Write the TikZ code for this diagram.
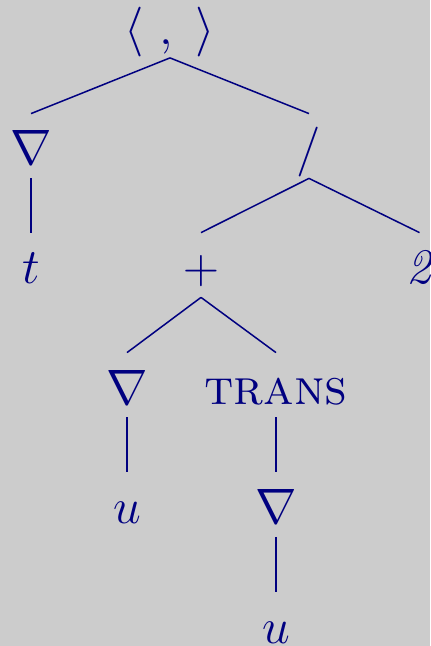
\documentclass[tikz,border=0pt]{standalone}
\usepackage{tikz}
\definecolor{treeNavy}{RGB}{0,0,128}
\definecolor{bgGray}{RGB}{204,204,204}
\tikzset{
  tnode/.style={text=treeNavy, font=\Huge, anchor=base, inner sep=3.5pt, text height=22pt, text depth=3pt},
  branch/.style={draw=treeNavy, line width=0.75pt}
}

\begin{document}
\begin{tikzpicture}[x=0.5pt,y=0.5pt]
  % background and frame
  \fill[bgGray] (0,0) rectangle (430,-646);
  \useasboundingbox (0,0) rectangle (430,-646);

  \node[tnode] (root) at (170,-44.5) {$\langle\ ,\ \rangle$};
  \node[tnode] (gradt) at (31,-165) {$\nabla$};
  \node[tnode] (divide) at (309,-165) {$/$};
  \node[tnode] (tvar) at (31,-284) {$t$};
  \node[tnode] (plus) at (201,-284) {$+$};
  \node[tnode] (two) at (419.5,-284) {\textit{2}};
  \node[tnode] (gradu) at (127,-404) {$\nabla$};
  \node[tnode] (trans) at (276,-404) {\textsc{trans}};
  \node[tnode] (uvar) at (127,-523.5) {$u$};
  \node[tnode] (gradv) at (276,-523.5) {$\nabla$};
  \node[tnode] (uvarb) at (276,-643) {$u$};

  \draw[branch] (root.south) -- (gradt.north);
  \draw[branch] (root.south) -- (divide.north);
  \draw[branch] (gradt.south) -- (tvar.north);
  \draw[branch] (divide.south) -- (plus.north);
  \draw[branch] (divide.south) -- (two.north);
  \draw[branch] (plus.south) -- (gradu.north);
  \draw[branch] (plus.south) -- (trans.north);
  \draw[branch] (gradu.south) -- (uvar.north);
  \draw[branch] (trans.south) -- (gradv.north);
  \draw[branch] (gradv.south) -- (uvarb.north);
\end{tikzpicture}
\end{document}
